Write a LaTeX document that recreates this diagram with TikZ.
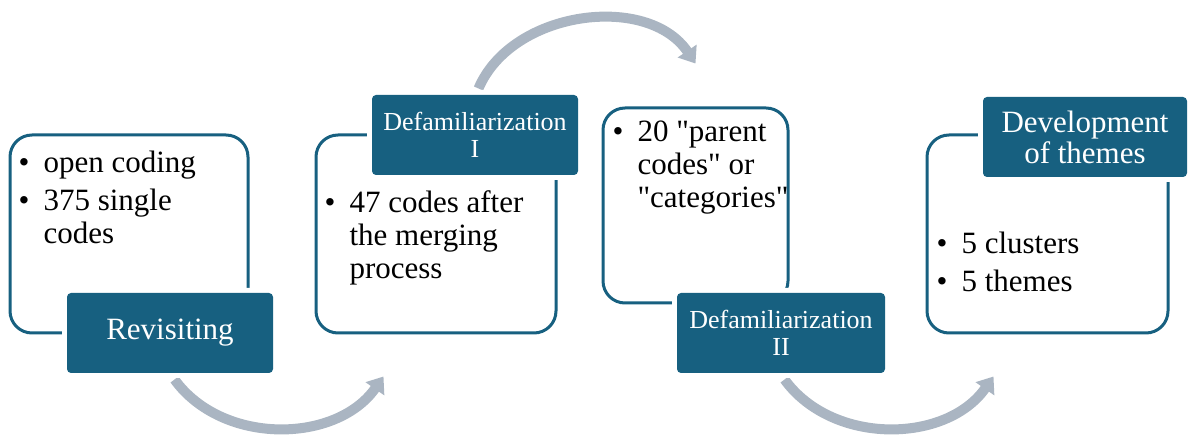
\documentclass[tikz,border=0pt]{standalone}
\usepackage{fontspec}
\setmainfont{Liberation Serif}[Ligatures=TeXOff]
\usetikzlibrary{arrows.meta}
\definecolor{steel}{RGB}{23,96,128}
\definecolor{flowgray}{RGB}{170,181,194}
\newcommand{\bl}{\textbullet}
\newcommand{\bigfont}{\rmfamily\fontsize{31}{31}\selectfont}
\newcommand{\midfont}{\rmfamily\fontsize{26}{27}\selectfont}
\newcommand{\bodyfont}{\rmfamily\fontsize{31}{33}\selectfont}
\tikzset{
  box/.style={draw=steel, line width=3pt, fill=white, rounded corners=22pt, inner sep=0pt},
  head/.style={fill=steel, text=white, rounded corners=4pt, inner sep=0pt, align=center,
    preaction={draw=white, line width=10pt}, minimum height=80pt},
  flow/.style={draw=flowgray, line width=10pt, -{Triangle[width=22pt,length=15pt]}},
  body/.style={inner sep=0pt, anchor=base west, font=\bodyfont},
}
\begin{document}
\begin{tikzpicture}[x=1pt,y=1pt]
\useasboundingbox (0,0) rectangle (1189,441);

% white boxes
\node[box, minimum width=238pt, minimum height=198pt] (b1) at (129,207) {};
\node[box, minimum width=240pt, minimum height=198pt] (b2) at (436,207) {};
\node[box, minimum width=185pt, minimum height=195pt] (b3) at (695.5,235.5) {};
\node[box, minimum width=241pt, minimum height=198pt] (b4) at (1047.5,207) {};

% arrow ends
\coordinate (s1) at ([shift={(-75pt,-45pt)}]b1.south east);
\coordinate (e1) at ([shift={(69pt,-42pt)}]b2.south west);
\coordinate (s2) at ([shift={(164pt,45pt)}]b2.north west);
\coordinate (e2) at ([shift={(94pt,43pt)}]b3.north west);
\coordinate (s3) at ([shift={(-5pt,-75pt)}]b3.south east);
\coordinate (e3) at ([shift={(68pt,-42pt)}]b4.south west);

\draw[flow] (s1) to[out=-54,in=-125] (e1);
\draw[flow] (s2) to[out=67,in=124] (e2);
\draw[flow] (s3) to[out=-54,in=-125] (e3);

% headers
\node[head, minimum width=206pt, font=\bigfont] (h1) at (170,108) {Revisiting};
\node[head, minimum width=206pt, font=\midfont] (h2) at (475,306) {Defamiliarization\\I};
\node[head, minimum width=208pt, font=\midfont] (h3) at (781,108) {Defamiliarization\\II};
\node[head, minimum width=204pt, font=\bigfont] (h4) at (1085,304) {Development\\of themes};

% bullet texts
\node[body] (t1) at ([shift={(10pt,-39pt)}]b1.north west) {%
  \begin{tabular}[t]{@{}l@{\hspace{14pt}}l@{}}
  \bl & open coding\\[5pt]
  \bl & 375 single\\
      & codes
  \end{tabular}};
\node[body] (t2) at ([shift={(10pt,-79pt)}]b2.north west) {%
  \begin{tabular}[t]{@{}l@{\hspace{14pt}}l@{}}
  \bl & 47 codes after\\
      & the merging\\
      & process
  \end{tabular}};
\node[body] (t3) at ([shift={(11pt,-35pt)}]b3.north west) {%
  \begin{tabular}[t]{@{}l@{\hspace{14pt}}l@{}}
  \bl & 20 "parent\\
      & codes" or\\
      & "categories"
  \end{tabular}};
\node[body] (t4) at ([shift={(11pt,-120pt)}]b4.north west) {%
  \begin{tabular}[t]{@{}l@{\hspace{14pt}}l@{}}
  \bl & 5 clusters\\[5pt]
  \bl & 5 themes
  \end{tabular}};
\end{tikzpicture}
\end{document}
